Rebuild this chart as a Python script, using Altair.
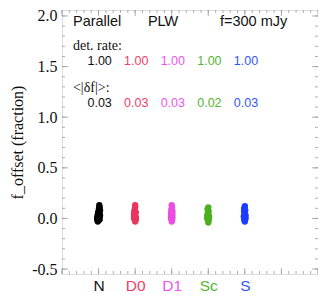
import altair as alt
import pandas as pd
import numpy as np

# categories and colours
categories = ["N", "D0", "D1", "Sc", "S"]
cat_pos = [1, 2, 3, 4, 5]
colors = ["#000000", "#e8365e", "#e84fe2", "#4caf1f", "#1c3cff"]
text_colors = ["#111111", "#f0406a", "#ee55ee", "#55b530", "#3355ff"]

det_rate = ["1.00", "1.00", "1.00", "1.00", "1.00"]
mean_df = ["0.03", "0.03", "0.03", "0.02", "0.03"]

# offsets (fraction) per category
y_N = [0.13, 0.11, 0.10, 0.08, 0.07, 0.05, 0.04, 0.03, 0.02, 0.01, 0.00, -0.01, -0.03, 0.06, 0.02, -0.02]
dx_N = [0.02, 0.03, 0.01, 0.04, 0.00, 0.03, -0.02, 0.04, -0.03, 0.02, -0.04, 0.03, -0.02, -0.01, 0.00, -0.03]
y_D0 = [0.13, 0.11, 0.08, 0.06, 0.05, 0.03, 0.02, 0.01, 0.00, -0.01, -0.03, 0.04]
dx_D0 = [0.00, 0.00, -0.02, 0.02, -0.03, 0.00, -0.03, 0.02, -0.03, 0.02, 0.00, -0.01]
y_D1 = [0.13, 0.11, 0.09, 0.07, 0.05, 0.04, 0.02, 0.01, 0.00, -0.02, -0.03, 0.06]
dx_D1 = [0.00, 0.01, -0.01, 0.02, -0.02, 0.02, -0.02, 0.02, -0.02, 0.01, 0.00, -0.01]
y_Sc = [0.11, 0.09, 0.07, 0.04, 0.03, 0.01, 0.00, -0.02, -0.04, 0.06, 0.02]
dx_Sc = [0.00, -0.02, 0.01, 0.00, -0.03, 0.02, -0.03, 0.01, 0.00, -0.01, 0.02]
y_S = [0.12, 0.10, 0.08, 0.07, 0.05, 0.03, 0.02, 0.00, -0.01, -0.03, 0.04]
dx_S = [0.00, -0.02, 0.01, -0.02, 0.00, 0.02, -0.03, 0.02, -0.02, 0.00, -0.01]

ys = [y_N, y_D0, y_D1, y_Sc, y_S]
dxs = [dx_N, dx_D0, dx_D1, dx_Sc, dx_S]

rows = []
for c, p, yy, dd in zip(categories, cat_pos, ys, dxs):
    for y, d in zip(yy, dd):
        rows.append({"cat": c, "x": p + d, "y": y})
pts = pd.DataFrame(rows)

W, H = 256, 264
XDOM = [0, 7]
YDOM = [-0.549, 2.059]
xs = alt.Scale(domain=XDOM, nice=False, zero=False)
ysc = alt.Scale(domain=YDOM, nice=False, zero=False)

y_ticks = [-0.5, 0.0, 0.5, 1.0, 1.5, 2.0]
label_expr = "replace(format(datum.value, '.1f'), '\u2212', '-')"
color_cond = {"condition": [{"test": f"datum.value == {p}", "value": col} for p, col in zip(cat_pos, text_colors)], "value": "black"}
name_expr = " : ".join([f"datum.value == {p} ? '{c}'" for p, c in zip(cat_pos, categories)]) + " : ''"

points = alt.Chart(pts).mark_circle(size=40, opacity=1).encode(
    x=alt.X("x:Q", scale=xs, axis=alt.Axis(values=cat_pos, labelExpr=name_expr, labelColor=color_cond,
                                             labelFont="Liberation Sans", labelFontSize=15.5, labelPadding=4,
                                             ticks=False, domain=False, grid=False, title=None)),
    y=alt.Y("y:Q", scale=ysc, axis=alt.Axis(values=y_ticks, labelExpr=label_expr, labelFont="Liberation Serif",
                                             labelFontSize=16, labelPadding=5, labelColor="#111",
                                             ticks=False, domain=False, grid=False,
                                             title="f_offset (fraction)", titleFont="Liberation Serif",
                                             titleFontSize=16, titleFontWeight="normal", titlePadding=6,
                                             titleColor="#111")),
    color=alt.Color("cat:N", scale=alt.Scale(domain=categories, range=colors), legend=None),
)

# inward frame ticks
y_minor = [round(v, 2) for v in np.arange(-0.5, 2.01, 0.1)]
x_major = list(range(0, 8))
x_minor = [round(v, 2) for v in np.arange(0, 7.01, 0.2)]
tick_style = dict(color="#9a9a9a", strokeWidth=0.8)

def yt(vals, ln):
    d = pd.DataFrame({"v": vals})
    l = alt.Chart(d).mark_rule(**tick_style).encode(y=alt.Y("v:Q", scale=ysc), x=alt.value(0), x2=alt.value(ln))
    r = alt.Chart(d).mark_rule(**tick_style).encode(y=alt.Y("v:Q", scale=ysc), x=alt.value(W), x2=alt.value(W - ln))
    return [l, r]

def xt(vals, ln):
    d = pd.DataFrame({"v": vals})
    b = alt.Chart(d).mark_rule(**tick_style).encode(x=alt.X("v:Q", scale=xs), y=alt.value(H), y2=alt.value(H - ln))
    t = alt.Chart(d).mark_rule(**tick_style).encode(x=alt.X("v:Q", scale=xs), y=alt.value(0), y2=alt.value(ln))
    return [b, t]

ticks = yt(y_ticks, 6) + yt(y_minor, 3) + xt(x_major, 6) + xt(x_minor, 3)

# header texts
hdr = pd.DataFrame({"x": [0.30, 2.35, 4.32], "y": [1.905, 1.905, 1.905], "t": ["Parallel", "PLW", "f=300 mJy"]})
header = alt.Chart(hdr).mark_text(align="left", baseline="alphabetic", font="Liberation Sans", fontSize=14.5, color="#111").encode(
    x=alt.X("x:Q", scale=xs), y=alt.Y("y:Q", scale=ysc), text="t:N")

lab = pd.DataFrame({"x": [0.30, 0.30], "y": [1.66, 1.25], "t": ["det. rate:", "<|δf|>:"]})
labels = alt.Chart(lab).mark_text(align="left", baseline="alphabetic", font="Liberation Serif", fontSize=14, color="#111").encode(
    x=alt.X("x:Q", scale=xs), y=alt.Y("y:Q", scale=ysc), text="t:N")

vals = pd.DataFrame({
    "x": [p + 0.03 for p in cat_pos] * 2,
    "y": [1.513] * 5 + [1.10] * 5,
    "t": det_rate + mean_df,
    "cat": categories * 2,
})
values = alt.Chart(vals).mark_text(align="center", baseline="alphabetic", font="Liberation Sans", fontSize=12.5).encode(
    x=alt.X("x:Q", scale=xs), y=alt.Y("y:Q", scale=ysc), text="t:N",
    color=alt.Color("cat:N", scale=alt.Scale(domain=categories, range=text_colors), legend=None))

chart = alt.layer(*ticks, header, labels, values, points).resolve_scale(color="independent").properties(
    width=W, height=H,
    autosize=alt.AutoSizeParams(type="none"),
    padding={"left": 54, "top": 2, "right": 0, "bottom": 21},
).configure_view(stroke="#a8a8a8", strokeWidth=1).configure(background="white")

chart.save("out.html", embed_options={"renderer": "svg", "actions": False})
